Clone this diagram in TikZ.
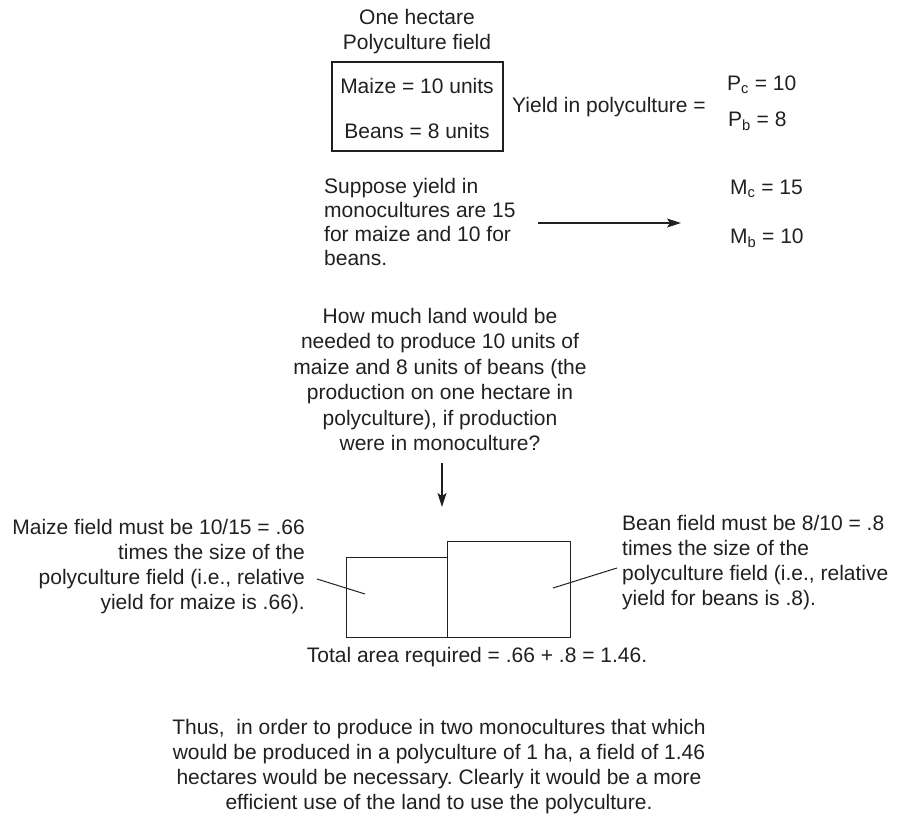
\documentclass[tikz,border=0pt]{standalone}
\usepackage{fontspec}
\setmainfont{Liberation Sans}
\usetikzlibrary{arrows.meta}
\definecolor{ink}{RGB}{35,31,32}
\frenchspacing
\begin{document}
\begin{tikzpicture}[x=1pt,y=-1pt,
  txt/.style={inner sep=0pt, text=ink, font=\fontsize{21}{25}\selectfont},
  conn/.style={draw=ink, line width=1.2pt, -{Stealth[length=14pt,width=9pt,inset=3pt]}},
  fieldbox/.style={draw=ink, line width=1.2pt, inner sep=0pt},
  leader/.style={draw=ink, line width=1pt}]
\useasboundingbox (0,0) rectangle (900,816);
% top block
\node[txt, align=center, anchor=north] (title) at (417,9) {One hectare\\Polyculture field};
\node[fieldbox, minimum width=171pt, minimum height=89pt] (polybox) at (417.5,106.5) {};
\node[txt, anchor=center] (maize) at (417,86) {Maize = 10 units};
\node[txt, anchor=center] (beans) at (417,131) {Beans = 8 units};
\node[txt, anchor=west] (yield) at (512,107) {Yield in polyculture =};
\node[txt, anchor=west] (pc) at (727,85) {P\textsubscript{c} = 10};
\node[txt, anchor=west] (pb) at (728,121) {P\textsubscript{b} = 8};
% monoculture yields
\node[txt, align=left, anchor=north west, font=\fontsize{21}{24}\selectfont] (suppose) at (324,178) {Suppose yield in\\monocultures are 15\\for maize and 10 for\\beans.};
\node[txt, anchor=west] (mc) at (730,189) {M\textsubscript{c} = 15};
\node[txt, anchor=west] (mb) at (730,238) {M\textsubscript{b} = 10};
\coordinate (a1) at (538,223);
\coordinate (a2) at (681,223);
\draw[conn] (a1) -- (a2);
% question
\node[txt, align=center, anchor=north, font=\fontsize{21}{25.5}\selectfont] (question) at (440,308) {How much land would be\\needed to produce 10 units of\\maize and 8 units of beans (the\\production on one hectare in\\polyculture), if production\\were in monoculture?};
\coordinate (d1) at (442,463);
\coordinate (d2) at (442,507);
\draw[conn] (d1) -- (d2);
% fields
\node[fieldbox, minimum width=101pt, minimum height=80pt, anchor=south west] (maizebox) at (346,638) {};
\node[fieldbox, minimum width=123pt, minimum height=96pt, anchor=south west] (beanbox) at (447,638) {};
\node[txt, align=right, anchor=north east] (maizetxt) at (305,519) {Maize field must be 10/15 = .66\\times the size of the\\polyculture field (i.e., relative\\yield for maize is .66).};
\node[txt, align=left, anchor=north west] (beantxt) at (622,515) {Bean field must be 8/10 = .8\\times the size of the\\polyculture field (i.e., relative\\yield for beans is .8).};
\coordinate (l1) at (317,579);
\coordinate (l2) at (365,594);
\draw[leader] (l1) -- (l2);
\coordinate (r1) at (617,568);
\coordinate (r2) at (553,588);
\draw[leader] (r1) -- (r2);
\node[txt, anchor=base] (total) at (477,662) {Total area required = .66 + .8 = 1.46.};
% conclusion
\node[txt, align=center, anchor=north] (concl) at (439,719) {Thus,\ \ in order to produce in two monocultures that which\\would be produced in a polyculture of 1 ha, a field of 1.46\\hectares would be necessary. Clearly it would be a more\\efficient use of the land to use the polyculture.};
\end{tikzpicture}
\end{document}
